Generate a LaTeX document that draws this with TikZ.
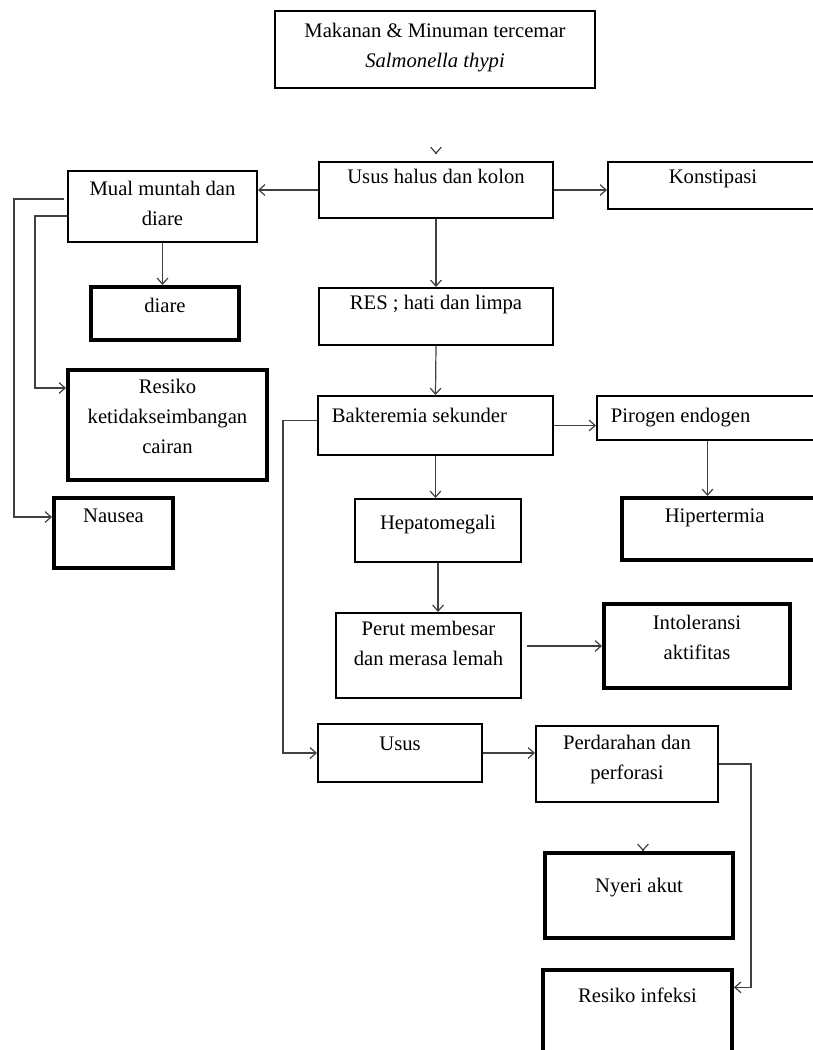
\documentclass[tikz,border=0pt]{standalone}
\usepackage{fontspec}
\setmainfont{Liberation Serif}
\usetikzlibrary{arrows.meta,fit}

\tikzset{
	kotak/.style={draw, line width=1.5pt, inner sep=0pt},
	tebal/.style={kotak, line width=3pt},
	isi/.style={anchor=north, align=center, inner sep=0pt},
	panah/.style={-{Straight Barb[length=4.5pt,width=8pt]}, line width=0.9pt, draw=black!75},
}

\begin{document}
\begin{tikzpicture}
	[
	x=0.75pt, y=-0.75pt, font=\fontsize{15.5}{22.5}\selectfont
	%1 Einheit = 1 Pixel, y nach unten
	]
	
	\clip (0,0) rectangle (813,1050);
	
	%Kotak atas
	\node[kotak, fit={(275,11) (595,88)}, label={[isi, yshift=-9.5pt]north:{Makanan \& Minuman tercemar\\\textit{Salmonella thypi}}}] (makanan) {};
	
	%Baris usus halus
	\node[kotak, fit={(319,162) (553,218)}, label={[isi, yshift=-6pt]north:Usus halus dan kolon}] (ususHalus) {};
	\node[kotak, fit={(608,162) (818,209)}, label={[isi, yshift=-6.5pt]north:Konstipasi}] (konstipasi) {};
	\node[kotak, fit={(68,171) (257,242)}, label={[isi, yshift=-8pt]north:{Mual muntah dan\\diare}}] (mual) {};
	
	%Cabang kiri
	\node[tebal, fit={(91,287) (239,340)}, label={[isi, yshift=-9.5pt]north:diare}] (diare) {};
	\node[tebal, fit={(68,370) (267,480)}, label={[isi, yshift=-8pt]north:{Resiko\\ketidakseimbangan\\cairan}}] (resiko) {};
	\node[tebal, fit={(54,498) (173,568)}, label={[isi, yshift=-9.5pt]north:Nausea}] (nausea) {};
	
	%Tengah
	\node[kotak, fit={(319,288) (553,345)}, label={[isi, yshift=-6pt]north:RES ; hati dan limpa}] (res) {};
	\node[kotak, fit={(318,396) (553,455)}, label={[isi, anchor=north west, xshift=11pt, yshift=-9.5pt]north west:Bakteremia sekunder}] (bakteremia) {};
	\node[kotak, fit={(597,396) (818,440)}, label={[isi, anchor=north west, xshift=11pt, yshift=-10pt]north west:Pirogen endogen}] (pirogen) {};
	\node[tebal, fit={(622,498) (818,560)}, label={[isi, xshift=-4pt, yshift=-9.5pt]north:Hipertermia}] (hipertermia) {};
	\node[kotak, fit={(355,499) (521,562)}, label={[isi, yshift=-12.5pt]north:Hepatomegali}] (hepatomegali) {};
	\node[kotak, fit={(336,613) (521,698)}, label={[isi, yshift=-6.5pt]north:{Perut membesar\\dan merasa lemah}}] (perut) {};
	\node[tebal, fit={(604,604) (790,688)}, label={[isi, yshift=-10pt]north:{Intoleransi\\aktifitas}}] (intoleransi) {};
	
	%Bawah
	\node[kotak, fit={(318,724) (482,782)}, label={[isi, yshift=-10pt]north:Usus}] (usus) {};
	\node[kotak, fit={(536,726) (718,802)}, label={[isi, yshift=-7.5pt]north:{Perdarahan dan\\perforasi}}] (perdarahan) {};
	\node[tebal, fit={(545,853) (733,938)}, label={[isi, yshift=-20pt]north:Nyeri akut}] (nyeri) {};
	\node[tebal, fit={(543,970) (732,1058)}, label={[isi, yshift=-15pt]north:Resiko infeksi}] (infeksi) {};
	
	%Panah
	\draw[panah] ([yshift=6pt]ususHalus.north) -- ([yshift=5.2pt]ususHalus.north);
	\draw[panah] (ususHalus.west) -- (ususHalus.west -| mual.east);
	\draw[panah] (ususHalus.east) -- (ususHalus.east -| konstipasi.west);
	\draw[panah] (ususHalus.south) -- (res.north);
	\draw[panah] (mual.south) -- (mual.south |- diare.north);
	\draw[panah, shorten <=2pt] ([yshift=5.6pt]mual.west) -- ++(-53,0) |- ([yshift=12pt]nausea.west);
	\draw[panah] ([yshift=-7.1pt]mual.west) -- ++(-32,0) |- ([yshift=27.75pt]resiko.west);
	\draw[panah] (res.south) -- (bakteremia.north);
	\draw[panah] (bakteremia.east) -- (bakteremia.east -| pirogen.west);
	\draw[panah] (pirogen.south) -- (pirogen.south |- hipertermia.north);
	\draw[panah] (bakteremia.south) -- (bakteremia.south |- hepatomegali.north);
	\draw[panah] (hepatomegali.south) -- (hepatomegali.south |- perut.north);
	\draw[panah, shorten <=4pt] (intoleransi.west -| perut.east) -- (intoleransi.west);
	\draw[panah] ([yshift=4pt]bakteremia.west) -- ++(-34,0) |- (usus.west);
	\draw[panah] (usus.east) -- (usus.east -| perdarahan.west);
	\draw[panah] (perdarahan.east) -- ++(32,0) |- ([yshift=20pt]infeksi.east);
	\draw[panah] ([xshift=3pt, yshift=1pt]nyeri.north) -- ([xshift=3pt]nyeri.north);
	
\end{tikzpicture}
\end{document}
